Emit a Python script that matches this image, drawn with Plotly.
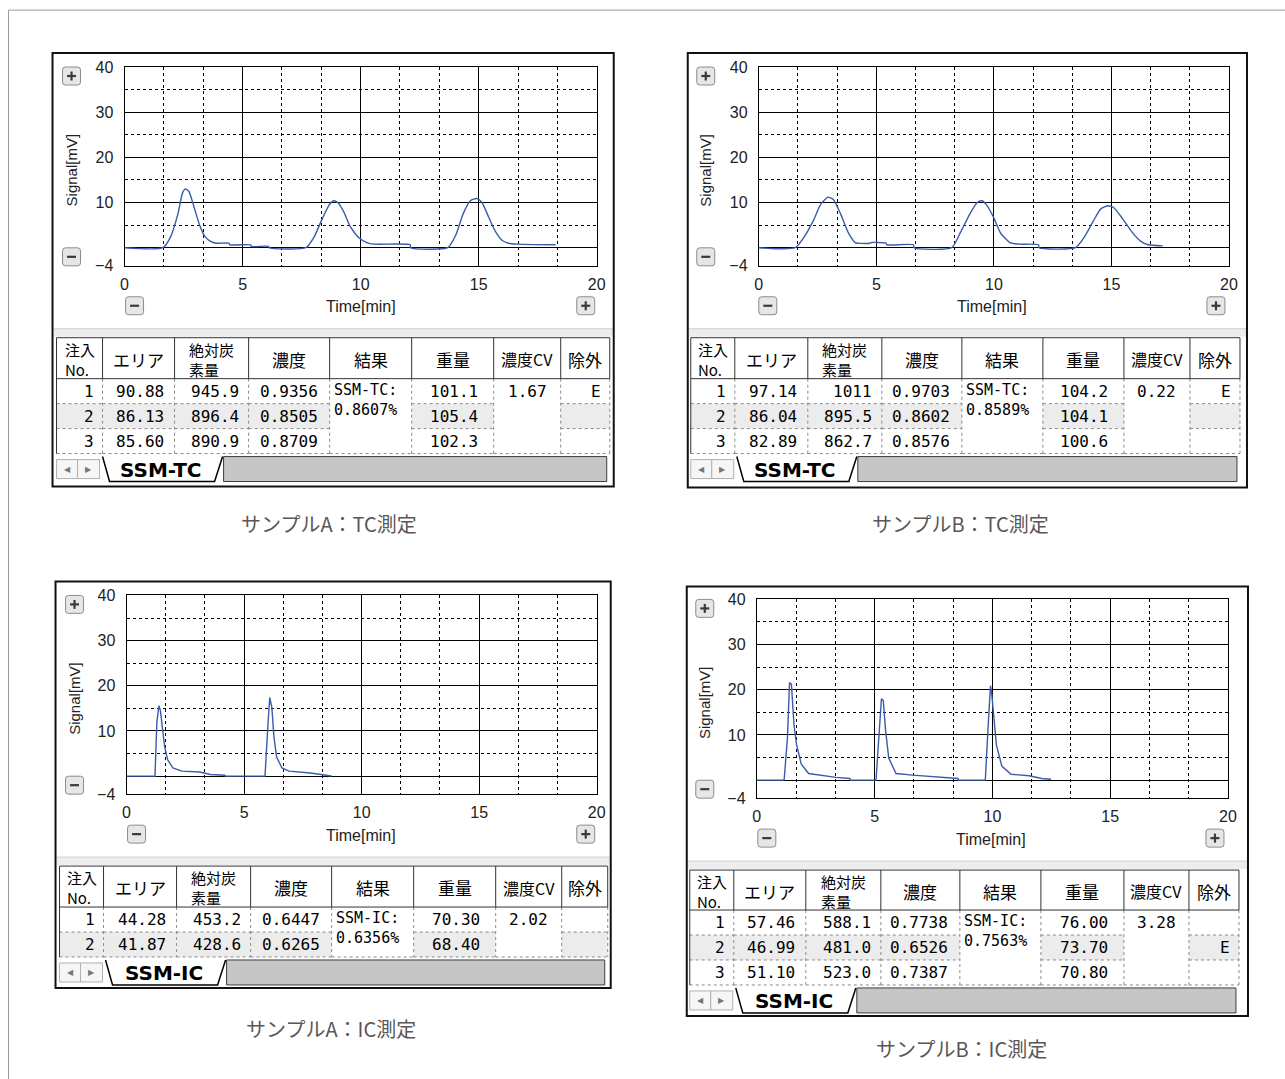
import plotly.graph_objects as go

W, H = 1285, 1079
# the photographed page is slightly rescaled; compensate so marks land where intended
AX, BX = 0.9895, 5.5
AY, BY = 0.9854, 7.9

# ---------------- chromatogram data: time [min], signal [mV] ----------------
A_TC_TIME = [0, 1.62, 1.95, 2.26, 2.46, 2.57, 2.72, 2.95, 3.18, 3.42, 3.65, 3.88, 4.42, 4.46, 5.34, 5.37, 6.10, 6.12,
             7.68, 8.03, 8.34, 8.65, 8.85, 9.03, 9.26, 9.57, 9.95, 10.26, 10.57, 12.10, 12.12,
             13.69, 14.03, 14.34, 14.65, 14.92, 15.14, 15.42, 15.72, 16.00, 16.26, 16.65, 18.26]
A_TC_SIGNAL = [0, 0, 2.4, 7.5, 12.2, 13.0, 12.5, 8.9, 5.0, 2.4, 1.4, 1.0, 1.0, 0.65, 0.65, 0.3, 0.3, 0,
               0, 2.4, 6.0, 9.3, 10.4, 10.0, 8.2, 4.6, 2.1, 1.15, 0.8, 0.65, 0,
               0, 2.8, 7.5, 10.4, 10.9, 10.0, 6.8, 3.5, 1.6, 1.0, 0.8, 0.65]

B_TC_TIME = [0, 1.55, 1.93, 2.32, 2.63, 2.94, 3.17, 3.48, 3.79, 4.10, 4.72, 4.80, 5.42, 5.45, 6.58, 6.60,
             8.20, 8.59, 8.98, 9.29, 9.49, 9.67, 9.98, 10.29, 10.68, 11.07, 11.90, 11.92,
             13.47, 13.85, 14.24, 14.55, 14.86, 15.09, 15.48, 15.87, 16.25, 16.56, 17.18]
B_TC_SIGNAL = [0, 0, 2.4, 6.0, 9.6, 11.2, 10.7, 7.5, 3.5, 1.15, 1.0, 1.15, 1.0, 0.65, 0.65, 0,
               0, 3.5, 7.5, 10.0, 10.4, 9.6, 6.8, 3.2, 1.15, 0.8, 0.65, 0,
               0, 2.4, 6.0, 8.6, 9.3, 8.9, 6.4, 3.5, 1.4, 0.65, 0.4]

A_IC_TIME = [0, 1.21, 1.29, 1.38, 1.44, 1.52, 1.62, 1.75, 1.97, 2.35, 3.11, 3.57, 4.18, 4.20,
             5.89, 6.00, 6.09, 6.18, 6.27, 6.38, 6.61, 6.91, 7.82, 8.50, 8.73]
A_IC_SIGNAL = [0, 0, 12.0, 15.6, 14.5, 11.2, 6.5, 3.6, 1.8, 1.1, 0.9, 0.36, 0.2, 0,
               0, 10.1, 17.4, 15.2, 8.7, 4.3, 1.8, 1.1, 0.7, 0.2, 0]

B_IC_TIME = [0, 1.16, 1.30, 1.39, 1.47, 1.58, 1.69, 1.89, 2.20, 2.82, 3.36, 3.95, 3.97,
             5.06, 5.19, 5.29, 5.37, 5.46, 5.60, 5.91, 6.61, 7.69, 8.54, 8.56,
             9.70, 9.83, 9.92, 9.98, 10.05, 10.17, 10.40, 10.79, 11.56, 12.10, 12.49]
B_IC_SIGNAL = [0, 0, 9.3, 21.6, 21.2, 12.2, 7.8, 3.5, 1.45, 0.95, 0.6, 0.36, 0,
               0, 11.4, 18.0, 17.6, 11.4, 4.9, 1.45, 1.1, 0.6, 0.36, 0,
               0, 12.9, 20.9, 18.7, 14.7, 7.8, 3.1, 1.3, 0.95, 0.36, 0.2]

X_TICKS = [0, 5, 10, 15, 20]
Y_TICKS = [-4, 0, 10, 20, 30, 40]
Y_TICKTEXT = ["−4", "", "10", "20", "30", "40"]

# ---------------- result tables ----------------
HEADERS = ["注入<br>No.", "エリア", "絶対炭<br>素量", "濃度", "結果", "重量", "濃度CV", "除外"]

A_TC_NO = ["1", "2", "3"]
A_TC_AREA = ["90.88", "86.13", "85.60"]
A_TC_CARBON = ["945.9", "896.4", "890.9"]
A_TC_CONC = ["0.9356", "0.8505", "0.8709"]
A_TC_WEIGHT = ["101.1", "105.4", "102.3"]
A_TC_EXCL = ["E", "", ""]
A_TC_RESULT = ["SSM-TC:", "0.8607%"]
A_TC_CV = "1.67"

B_TC_NO = ["1", "2", "3"]
B_TC_AREA = ["97.14", "86.04", "82.89"]
B_TC_CARBON = ["1011", "895.5", "862.7"]
B_TC_CONC = ["0.9703", "0.8602", "0.8576"]
B_TC_WEIGHT = ["104.2", "104.1", "100.6"]
B_TC_EXCL = ["E", "", ""]
B_TC_RESULT = ["SSM-TC:", "0.8589%"]
B_TC_CV = "0.22"

A_IC_NO = ["1", "2"]
A_IC_AREA = ["44.28", "41.87"]
A_IC_CARBON = ["453.2", "428.6"]
A_IC_CONC = ["0.6447", "0.6265"]
A_IC_WEIGHT = ["70.30", "68.40"]
A_IC_EXCL = ["", ""]
A_IC_RESULT = ["SSM-IC:", "0.6356%"]
A_IC_CV = "2.02"

B_IC_NO = ["1", "2", "3"]
B_IC_AREA = ["57.46", "46.99", "51.10"]
B_IC_CARBON = ["588.1", "481.0", "523.0"]
B_IC_CONC = ["0.7738", "0.6526", "0.7387"]
B_IC_WEIGHT = ["76.00", "73.70", "70.80"]
B_IC_EXCL = ["", "E", ""]
B_IC_RESULT = ["SSM-IC:", "0.7563%"]
B_IC_CV = "3.28"

TAB_NAMES = ["SSM-TC", "SSM-TC", "SSM-IC", "SSM-IC"]
CAPTIONS = ["サンプルA：TC測定", "サンプルB：TC測定", "サンプルA：IC測定", "サンプルB：IC測定"]

# ---------------- layout geometry (target pixels) ----------------
GEOM = [
    dict(box=(54, 53, 615, 487), plot=(126, 67, 598, 266), sig=(73, 170), time=(362, 307),
         bl=73, bt=76, bb=257, by=306, bxl=136, bxr=587, strip=(329, 337),
         cols=[58, 104, 176, 250, 331, 413, 495, 562, 611], head=(338, 379), tab=(457, 482), cap=(330, 524)),
    dict(box=(689, 53, 1248, 488), plot=(760, 67, 1230, 266), sig=(707, 170), time=(993, 307),
         bl=707, bt=76, bb=257, by=306, bxl=769, bxr=1217, strip=(329, 337),
         cols=[692, 736, 809, 883, 963, 1044, 1125, 1191, 1241], head=(338, 379), tab=(457, 482), cap=(962, 524)),
    dict(box=(57, 582, 612, 989), plot=(128, 596, 598, 795), sig=(76, 699), time=(362, 836),
         bl=76, bt=605, bb=786, by=835, bxl=138, bxr=587, strip=(858, 866),
         cols=[61, 105, 178, 252, 333, 415, 497, 563, 609], head=(867, 908), tab=(961, 986), cap=(332, 1030)),
    dict(box=(688, 587, 1249, 1017), plot=(758, 600, 1229, 799), sig=(706, 703), time=(992, 840),
         bl=706, bt=609, bb=790, by=839, bxl=768, bxr=1216, strip=(862, 870),
         cols=[691, 735, 807, 882, 961, 1042, 1125, 1190, 1240], head=(871, 911), tab=(989, 1014), cap=(963, 1050)),
]
ROW_H = 25
RIGHT_PAD = [7, 9, 8, 10, None, 14, None, 7]

SERIES = [(A_TC_TIME, A_TC_SIGNAL), (B_TC_TIME, B_TC_SIGNAL), (A_IC_TIME, A_IC_SIGNAL), (B_IC_TIME, B_IC_SIGNAL)]
SMOOTH = [True, True, False, False]
TABLES = [
    (A_TC_NO, A_TC_AREA, A_TC_CARBON, A_TC_CONC, A_TC_WEIGHT, A_TC_EXCL, A_TC_RESULT, A_TC_CV),
    (B_TC_NO, B_TC_AREA, B_TC_CARBON, B_TC_CONC, B_TC_WEIGHT, B_TC_EXCL, B_TC_RESULT, B_TC_CV),
    (A_IC_NO, A_IC_AREA, A_IC_CARBON, A_IC_CONC, A_IC_WEIGHT, A_IC_EXCL, A_IC_RESULT, A_IC_CV),
    (B_IC_NO, B_IC_AREA, B_IC_CARBON, B_IC_CONC, B_IC_WEIGHT, B_IC_EXCL, B_IC_RESULT, B_IC_CV),
]

MINOR_X = [5 * k / 3 for k in range(1, 12) if k % 3]
MINOR_Y = [5, 15, 25, 35]

LINE_BLUE = "#3a5cab"
MONO = "DejaVu Sans Mono"
JP = "Noto Sans CJK JP"
SANS = "Liberation Sans"


def X(x):
    return ((x - BX) / AX) / W


def Y(y):
    return 1 - ((y - BY) / AY) / H


shapes = []
annos = []


def line(x0, y0, x1, y1, color="#000", width=1, dash="solid"):
    shapes.append(dict(type="line", xref="paper", yref="paper", x0=X(x0), y0=Y(y0), x1=X(x1), y1=Y(y1),
                       line=dict(color=color, width=width, dash=dash)))


def rect(x0, y0, x1, y1, fill=None, color=None, width=1):
    d = dict(type="rect", xref="paper", yref="paper", x0=X(x0), y0=Y(y0), x1=X(x1), y1=Y(y1),
             line=dict(width=width if color else 0, color=color or "rgba(0,0,0,0)"))
    d["fillcolor"] = fill if fill else "rgba(0,0,0,0)"
    shapes.append(d)


def path(points, color="#000", width=1, fill=None, close=False):
    s = "M " + " L ".join(f"{X(px)},{Y(py)}" for px, py in points) + (" Z" if close else "")
    shapes.append(dict(type="path", xref="paper", yref="paper", path=s,
                       line=dict(color=color, width=width), fillcolor=fill or "rgba(0,0,0,0)"))


def text(x, y, s, size, family=SANS, color="#000", xanchor="center", angle=0, weight="normal", yanchor="middle"):
    annos.append(dict(x=X(x), y=Y(y), xref="paper", yref="paper", text=s, showarrow=False,
                      xanchor=xanchor, yanchor=yanchor, textangle=angle, align="left",
                      font=dict(size=size, family=family, color=color, weight=weight)))


def button(cx, cy, sign):
    w, r = 9, 3
    x0, x1, y0, y1 = X(cx - w), X(cx + w), Y(cy - w), Y(cy + w)
    rx, ry = r / W, r / H
    p = (f"M {x0 + rx},{y0} L {x1 - rx},{y0} Q {x1},{y0} {x1},{y0 - ry} L {x1},{y1 + ry} "
         f"Q {x1},{y1} {x1 - rx},{y1} L {x0 + rx},{y1} Q {x0},{y1} {x0},{y1 + ry} L {x0},{y0 - ry} "
         f"Q {x0},{y0} {x0 + rx},{y0} Z")
    shapes.append(dict(type="path", xref="paper", yref="paper", path=p,
                       line=dict(color="#8c8c8c", width=1), fillcolor="#e6e6e6"))
    line(cx - 4.5, cy, cx + 4.5, cy, color="#3a3a3a", width=2.2)
    if sign == "+":
        line(cx, cy - 4.5, cx, cy + 4.5, color="#3a3a3a", width=2.2)


fig = go.Figure()
layout_axes = {}

for i, (g, (t, s), tbl, smooth) in enumerate(zip(GEOM, SERIES, TABLES, SMOOTH), start=1):
    xa, ya = ("x", "y") if i == 1 else (f"x{i}", f"y{i}")
    ln = dict(color=LINE_BLUE, width=1.4)
    if smooth:
        ln.update(shape="spline", smoothing=0.6)
    fig.add_trace(go.Scatter(x=t, y=s, mode="lines", line=ln,
                             xaxis=xa, yaxis=ya, showlegend=False, hoverinfo="skip"))
    px0, py0, px1, py1 = g["plot"]
    tickfont = dict(family=SANS, size=16, color="#222")
    layout_axes["xaxis" if i == 1 else f"xaxis{i}"] = dict(
        domain=[X(px0), X(px1)], range=[0, 20], anchor=ya, tickmode="array", tickvals=X_TICKS,
        ticks="", showgrid=True, gridcolor="#000", gridwidth=1, zeroline=False,
        showline=True, linecolor="#000", linewidth=1, mirror=True, tickfont=tickfont,
        ticklabelstandoff=4, fixedrange=True,
        minor=dict(tickmode="array", tickvals=MINOR_X, showgrid=True, gridcolor="#000",
                   griddash="3px,3px", gridwidth=1, ticks=""))
    layout_axes["yaxis" if i == 1 else f"yaxis{i}"] = dict(
        domain=[Y(py1), Y(py0)], range=[-4, 40], anchor=xa, tickmode="array", tickvals=Y_TICKS,
        ticktext=Y_TICKTEXT, ticks="", showgrid=True, gridcolor="#000", gridwidth=1,
        zeroline=True, zerolinecolor="#000", zerolinewidth=1,
        showline=True, linecolor="#000", linewidth=1, mirror=True, tickfont=tickfont,
        ticklabelstandoff=7, fixedrange=True,
        minor=dict(tickmode="array", tickvals=MINOR_Y, showgrid=True, gridcolor="#000",
                   griddash="3px,3px", gridwidth=1, ticks=""))

    bx0, by0, bx1, by1 = g["box"]
    text(g["sig"][0], g["sig"][1], "Signal[mV]", 15, SANS, "#222", angle=-90)
    text(g["time"][0], g["time"][1], "Time[min]", 16, SANS, "#222")
    button(g["bl"], g["bt"], "+")
    button(g["bl"], g["bb"], "−")
    button(g["bxl"], g["by"], "−")
    button(g["bxr"], g["by"], "+")
    rect(bx0 + 1, g["strip"][0], bx1 - 1, g["strip"][1], fill="#ededed")
    line(bx0 + 1, g["strip"][0], bx1 - 1, g["strip"][0], color="#d0d0d0")

    cols = g["cols"]
    ht, hb = g["head"]
    no, area, carbon, conc, weight, excl, result, cv = tbl
    nrows = len(no)
    merged = (4, 6)
    bottom = hb + nrows * ROW_H
    rect(cols[0], ht, cols[-1], hb, fill="#ffffff")
    for r in range(nrows):
        if r == 1:
            for c in range(8):
                if c not in merged:
                    rect(cols[c], hb + r * ROW_H, cols[c + 1], hb + (r + 1) * ROW_H, fill="#ececec")
    for r in range(nrows):
        yb = hb + (r + 1) * ROW_H
        for c in range(8):
            if r == nrows - 1 or c not in merged:
                line(cols[c], yb, cols[c + 1], yb, color="#8a8a8a", width=1, dash="dot")
    for c in range(1, 9):
        line(cols[c], hb, cols[c], bottom, color="#8a8a8a", width=1, dash="dot")
    line(cols[0], ht, cols[-1], ht, color="#333", width=1)
    line(cols[0], hb, cols[-1], hb, color="#333", width=1)
    for c in range(1, 9):
        line(cols[c], ht, cols[c], hb, color="#333", width=1)
    line(cols[0], ht, cols[0], bottom, color="#333", width=1)
    for c, h in enumerate(HEADERS):
        cx = (cols[c] + cols[c + 1]) / 2
        size = 15 if "<br>" in h else (16 if c == 6 else 17)
        text(cx, (ht + hb) / 2 + 1, h, size, JP, "#000")
    colvals = [no, area, carbon, conc, None, weight, None, excl]
    for c, vals in enumerate(colvals):
        if vals is None:
            continue
        for r, v in enumerate(vals):
            if v:
                text(cols[c + 1] - RIGHT_PAD[c], hb + r * ROW_H + ROW_H / 2, v, 16, MONO, "#000", xanchor="right")
    text(cols[4] + 2, hb, "<br>".join(result), 15, MONO, "#000", xanchor="left", yanchor="top")
    text((cols[6] + cols[7]) / 2, hb + ROW_H / 2, cv, 16, MONO, "#000")

    ty0, ty1 = g["tab"]
    c0 = cols[0]
    rect(c0 - 2, ty0, cols[-1], ty1, fill="#ffffff")
    rect(c0 + 167, ty0, cols[-1] - 3, ty1, fill="#c6c6c6", color="#3c3c3c", width=1)
    rect(c0, ty0 + 3, c0 + 21, ty1 - 3, fill="#f6f6f6", color="#b0b0b0")
    rect(c0 + 21, ty0 + 3, c0 + 43, ty1 - 3, fill="#f6f6f6", color="#b0b0b0")
    text(c0 + 10.5, (ty0 + ty1) / 2, "◀", 8, "DejaVu Sans", "#777")
    text(c0 + 32, (ty0 + ty1) / 2, "▶", 8, "DejaVu Sans", "#777")
    path([(c0 + 46, ty0), (c0 + 53, ty1), (c0 + 158, ty1), (c0 + 166, ty0)], color="#000", width=1.5)
    text(c0 + 104, (ty0 + ty1) / 2 + 1, TAB_NAMES[i - 1], 20, "DejaVu Sans", "#000", weight="bold")

    rect(bx0, by0, bx1, by1, color="#111", width=2)
    text(g["cap"][0], g["cap"][1], CAPTIONS[i - 1], 20, JP, "#595757")

line(10, 10, W + 20, 10, color="#9a9a9a", width=1)
line(10, 10, 10, H + 20, color="#9a9a9a", width=1)

fig.update_layout(width=W, height=H, autosize=False, margin=dict(l=0, r=0, t=0, b=0, pad=0),
                  paper_bgcolor="#ffffff", plot_bgcolor="rgba(0,0,0,0)",
                  shapes=shapes, annotations=annos, showlegend=False, **layout_axes)

fig.write_html("out.html", config={"displayModeBar": False, "staticPlot": True},
               post_script="document.body.style.margin='0px';")
